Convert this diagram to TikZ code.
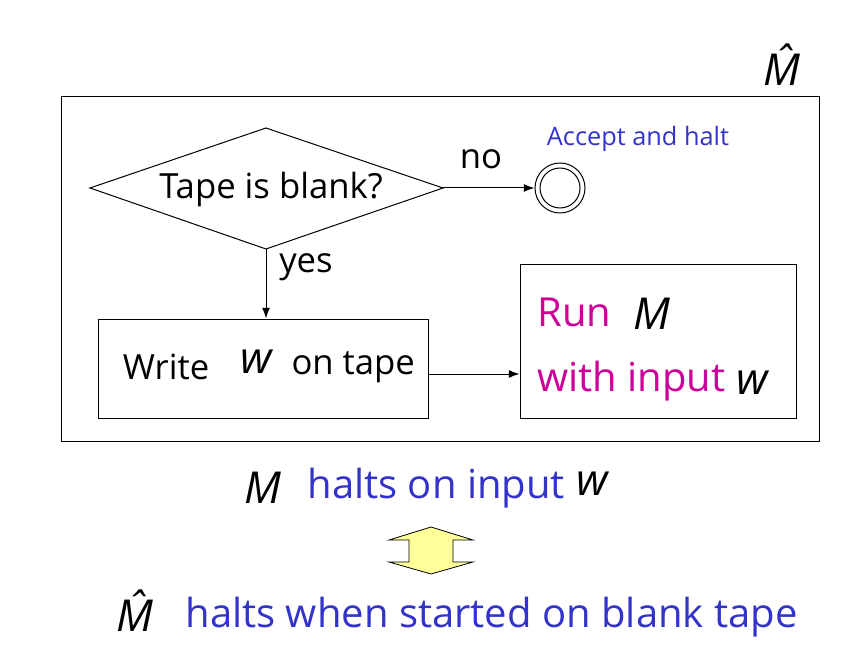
\documentclass[tikz,border=0pt]{standalone}
\usepackage{fontspec}
\setmainfont{Open Sans}
\usetikzlibrary{shapes.geometric,arrows.meta}
\definecolor{tblue}{RGB}{51,51,204}
\definecolor{tmag}{RGB}{204,0,153}
\definecolor{tyellow}{RGB}{255,255,153}
\begin{document}
\begin{tikzpicture}[x=0.75pt,y=-0.75pt,
  line width=0.75pt,
  arr/.style={-{Latex[length=8pt,width=6pt]}},
  txt/.style={inner sep=0pt, font=\fontsize{26}{30}\selectfont},
  big/.style={inner sep=0pt, font=\fontsize{30}{36}\selectfont},
  sym/.style={inner sep=0pt, font=\fontsize{33}{38}\selectfont\itshape}]
\useasboundingbox (0,0) rectangle (867,645);
% outer box
\node[draw, minimum width=758*0.75pt, minimum height=344*0.75pt, inner sep=0pt] (outer) at (440,269) {};
\node[sym] (mhat1) at (782,65) {\^{M}};
% diamond
\draw (90,188) coordinate (dl) -- (266,128) -- (443,188) coordinate (dr) -- (266,249) coordinate (db) -- cycle;
\node[txt] (tape) at (271,189) {Tape is blank?};
% accept circle
\node[draw, circle, minimum size=50*0.75pt, inner sep=0pt] (acc) at (560,188) {};
\node[draw, circle, minimum size=40*0.75pt, inner sep=0pt] (acci) at (560,188) {};
\node[inner sep=0pt, text=tblue, font=\fontsize{19}{22}\selectfont] (acctxt) at (638,139) {Accept and halt};
\draw[arr] (dr) -- (acc.west);
\node[txt] (no) at (481,159) {no};
% write box
\node[draw, minimum width=330*0.75pt, minimum height=99*0.75pt, inner sep=0pt] (write) at (263,368.5) {};
\node[txt] (wtxt) at (166,367) {Write};
\node[sym] (ww) at (256,362) {w};
\node[txt, anchor=west] (wtxt2) at (291,367) {on tape};
\draw[arr] (db) -- (db |- write.north);
\node[txt] (yes) at (306,267) {yes};
% run box
\node[draw, minimum width=276*0.75pt, minimum height=153*0.75pt, inner sep=0pt] (run) at (658,341.5) {};
\node[big, text=tmag, anchor=west] (runt) at (537,312) {Run};
\node[sym] (runm) at (652,314) {M};
\node[big, text=tmag, anchor=west] (witht) at (537,381) {with input};
\node[sym] (runw) at (752,383) {w};
\draw[arr] (write.east |- 0,374) -- (run.west |- 0,374);
% bottom lines
\node[sym] (m2) at (263,488) {M};
\node[big, text=tblue, anchor=west] (halts1) at (307,488) {halts on input};
\node[sym] (w2) at (592,484) {w};
\draw[fill=tyellow, line width=0.6pt] (431,527) -- (473,540) -- (453,540) -- (453,562) -- (473,562) -- (431,574) -- (389,562) -- (409,562) -- (409,540) -- (389,540) -- cycle;
\node[sym] (mhat2) at (135,611) {\^{M}};
\node[big, text=tblue, anchor=west] (halts2) at (185,617) {halts when started on blank tape};
\end{tikzpicture}
\end{document}
